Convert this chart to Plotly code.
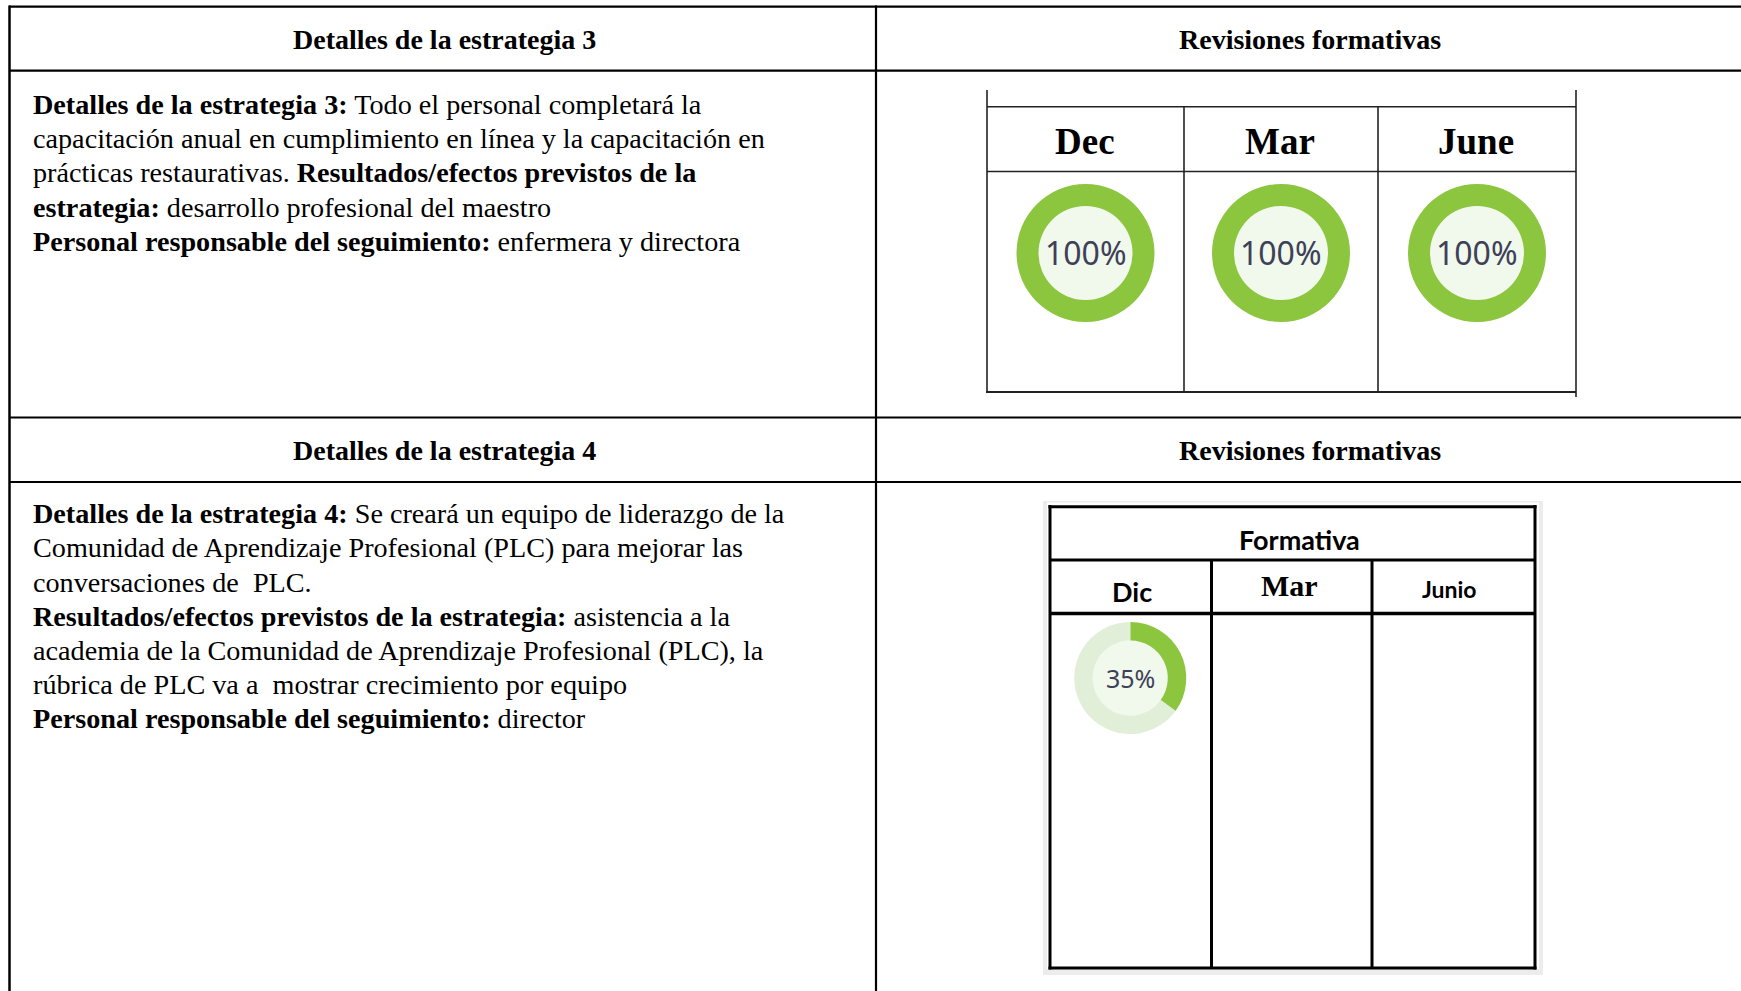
import plotly.graph_objects as go

W, H = 1741, 991

# ---------------- data ----------------
header_left = "Detalles de la estrategia 3"
header_right = "Revisiones formativas"
header_left_4 = "Detalles de la estrategia 4"

body_s3 = [
    "<b>Detalles de la estrategia 3:</b> Todo el personal completará la",
    "capacitación anual en cumplimiento en línea y la capacitación en",
    "prácticas restaurativas. <b>Resultados/efectos previstos de la</b>",
    "<b>estrategia:</b> desarrollo profesional del maestro",
    "<b>Personal responsable del seguimiento:</b> enfermera y directora",
]
body_s4 = [
    "<b>Detalles de la estrategia 4:</b> Se creará un equipo de liderazgo de la",
    "Comunidad de Aprendizaje Profesional (PLC) para mejorar las",
    "conversaciones de \u00a0PLC.",
    "<b>Resultados/efectos previstos de la estrategia:</b> asistencia a la",
    "academia de la Comunidad de Aprendizaje Profesional (PLC), la",
    "rúbrica de PLC va a \u00a0mostrar crecimiento por equipo",
    "<b>Personal responsable del seguimiento:</b> director",
]

months_s3 = ["Dec", "Mar", "June"]
pct_s3 = [100, 100, 100]

title_s4 = "Formativa"
months_s4 = ["Dic", "Mar", "Junio"]
pct_s4 = [35, None, None]

GREEN = "#8cc63f"
LIGHT = "#e2efd8"
HOLE = "#f1f8ec"
TXT = "#3d4157"

def px(x):
    return x / W

def py(y):
    return 1 - y / H

fig = go.Figure()
shapes = []
ann = []

def hline(y, x0, x1, w=2, c="#000"):
    shapes.append(dict(type="line", xref="paper", yref="paper",
                       x0=px(x0), x1=px(x1), y0=py(y), y1=py(y),
                       line=dict(color=c, width=w)))

def vline(x, y0, y1, w=2, c="#000"):
    shapes.append(dict(type="line", xref="paper", yref="paper",
                       x0=px(x), x1=px(x), y0=py(y0), y1=py(y1),
                       line=dict(color=c, width=w)))

def text(x, y, s, size, family, color="#000", xanchor="center"):
    ann.append(dict(x=px(x), y=py(y), xref="paper", yref="paper", text=s,
                    showarrow=False, xanchor=xanchor, yanchor="middle",
                    font=dict(size=size, family=family, color=color)))

SERIF = "Liberation Serif, Times New Roman, serif"
SANS = "Lato, Noto Sans, sans-serif"
NUMF = "Noto Sans, Open Sans, sans-serif"

# ---------------- outer table ----------------
for y in [6.7, 70.7, 417.5, 482]:
    hline(y, 9, W + 5, 2.2)
vline(9.5, 5.6, H + 5, 2.5)
vline(876, 5.6, H + 5, 2.2)

text(444, 40, "<b>" + header_left + "</b>", 28, SERIF)
text(1310, 40, "<b>" + header_right + "</b>", 28, SERIF)
text(444, 450, "<b>" + header_left_4 + "</b>", 28, SERIF)
text(1310, 450, "<b>" + header_right + "</b>", 28, SERIF)

ys3 = [104.5, 138.5, 172.5, 207, 241.5]
for yy, s in zip(ys3, body_s3):
    text(31, yy, s, 28.2, SERIF, xanchor="left")
ys4 = [513.5, 547.5, 582, 616, 650.5, 684.5, 718.5]
for yy, s in zip(ys4, body_s4):
    text(31, yy, s, 28.2, SERIF, xanchor="left")

# ---------------- inner table 1 (strategy 3) ----------------
t1x = [987, 1184, 1378, 1576]
lw1 = 1.6
hline(106.7, t1x[0], t1x[-1], lw1, "#222")
hline(171.5, t1x[0], t1x[-1], lw1, "#222")
hline(392, t1x[0] - 1, t1x[-1], lw1 + 0.6, "#222")
vline(t1x[0], 90, 393, lw1, "#222")
vline(t1x[1], 106.7, 392, lw1, "#222")
vline(t1x[2], 106.7, 392, lw1, "#222")
vline(t1x[3], 90, 397, lw1, "#222")

r_out1, r_in1, cy1 = 69, 47, 253
for i, (m, v) in enumerate(zip(months_s3, pct_s3)):
    cx = (t1x[i] + t1x[i + 1]) / 2
    text(cx - 1, 142, "<b>" + m + "</b>", 37, SERIF)
    shapes.append(dict(type="circle", xref="paper", yref="paper", layer="below",
                       x0=px(cx - r_in1), x1=px(cx + r_in1),
                       y0=py(cy1 + r_in1), y1=py(cy1 - r_in1),
                       fillcolor=HOLE, line=dict(width=0)))
    fig.add_trace(go.Pie(values=[v, 100 - v], labels=["done", "rest"],
                         hole=r_in1 / r_out1, sort=False, direction="clockwise",
                         marker=dict(colors=[GREEN, LIGHT], line=dict(width=0)),
                         textinfo="none", showlegend=False, hoverinfo="skip",
                         domain=dict(x=[px(cx - r_out1), px(cx + r_out1)],
                                     y=[py(cy1 + r_out1), py(cy1 - r_out1)])))
    text(cx, cy1 - 1, f"{v}%", 32, NUMF, TXT)

# ---------------- inner table 2 (strategy 4) ----------------
t2x = [1050, 1211.5, 1372, 1535]
shapes.append(dict(type="rect", xref="paper", yref="paper", layer="below",
                   x0=px(1043), x1=px(1543), y0=py(975), y1=py(501),
                   fillcolor="#ececec", line=dict(width=0)))
shapes.append(dict(type="rect", xref="paper", yref="paper", layer="below",
                   x0=px(1047), x1=px(1539), y0=py(969), y1=py(502.5),
                   fillcolor="#ffffff", line=dict(width=0)))
lw2 = 3
hline(506.7, t2x[0] - 1.5, t2x[-1] + 1.5, lw2)
hline(560, t2x[0], t2x[-1], lw2)
hline(613.5, t2x[0], t2x[-1], lw2 + 0.7)
hline(968, t2x[0] - 1.5, t2x[-1] + 1.5, lw2)
vline(t2x[0], 505, 969.5, lw2)
vline(t2x[3], 505, 969.5, lw2)
vline(t2x[1], 560, 968, lw2)
vline(t2x[2], 560, 968, lw2)

text((t2x[0] + t2x[-1]) / 2 + 7, 539, "<b>" + title_s4 + "</b>", 27, SANS)
hdr_style = [(SANS, 27, 591, 1.5), (SERIF, 30, 585, -2), (SANS, 23, 589, -4)]
r_out2, r_in2, cy2 = 56, 37.5, 678
for i, (m, v) in enumerate(zip(months_s4, pct_s4)):
    cx = (t2x[i] + t2x[i + 1]) / 2
    fam, sz, yy, dx = hdr_style[i]
    text(cx + dx, yy, "<b>" + m + "</b>", sz, fam)
    if v is None:
        continue
    dcx = cx - 0.5
    shapes.append(dict(type="circle", xref="paper", yref="paper", layer="below",
                       x0=px(dcx - r_in2), x1=px(dcx + r_in2),
                       y0=py(cy2 + r_in2), y1=py(cy2 - r_in2),
                       fillcolor=HOLE, line=dict(width=0)))
    fig.add_trace(go.Pie(values=[v, 100 - v], labels=["done", "rest"],
                         hole=r_in2 / r_out2, sort=False, direction="clockwise",
                         marker=dict(colors=[GREEN, LIGHT], line=dict(width=0)),
                         textinfo="none", showlegend=False, hoverinfo="skip",
                         domain=dict(x=[px(dcx - r_out2), px(dcx + r_out2)],
                                     y=[py(cy2 + r_out2), py(cy2 - r_out2)])))
    text(dcx, cy2, f"{v}%", 25, NUMF, TXT)

fig.update_layout(width=W, height=H, margin=dict(l=0, r=0, t=0, b=0),
                  paper_bgcolor="white", plot_bgcolor="white",
                  shapes=shapes, annotations=ann, showlegend=False)

fig.write_html("out.html", config={"displayModeBar": False},
               post_script="document.body.style.margin='0';document.body.style.overflow='hidden';")
